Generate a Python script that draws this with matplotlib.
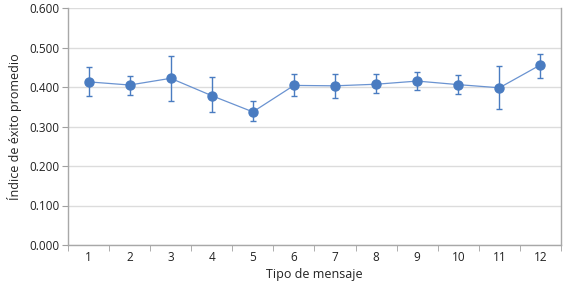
import matplotlib.pyplot as plt
import numpy as np

plt.rcParams['font.family'] = ['Open Sans', 'DejaVu Sans']

tipos = [1, 2, 3, 4, 5, 6, 7, 8, 9, 10, 11, 12]
media = [0.413, 0.405, 0.422, 0.378, 0.337, 0.404, 0.403, 0.407, 0.415, 0.406, 0.398, 0.456]
sup = [0.451, 0.428, 0.478, 0.425, 0.365, 0.433, 0.434, 0.433, 0.439, 0.430, 0.452, 0.484]
inf = [0.377, 0.380, 0.365, 0.337, 0.314, 0.376, 0.372, 0.384, 0.392, 0.383, 0.344, 0.424]

media = np.array(media)
err = [media - np.array(inf), np.array(sup) - media]

fig = plt.figure(figsize=(5.73, 2.86), dpi=100)
ax = fig.add_axes([68/573, 1-245/286, (561-68)/573, (245-8)/286])

azul = "#4a7cc1"
ax.errorbar(tipos, media, yerr=err, color="#6a93d1", lw=0.9, ecolor=azul,
            elinewidth=1.0, capsize=2.5, capthick=1.0, marker="o", ms=6.5,
            mfc=azul, mec=azul, zorder=3)

ax.set_xlim(0.5, 12.5)
ax.set_ylim(0, 0.6)
ax.set_yticks(np.arange(0, 0.61, 0.1))
ax.set_yticklabels(["%.3f" % v for v in np.arange(0, 0.61, 0.1)])
ax.yaxis.grid(True, color="#dcdcdc", lw=1.0)
ax.set_axisbelow(True)

ax.set_xticks(tipos)
ax.set_xticks(np.arange(0.5, 12.6, 1), minor=True)
ax.tick_params(axis="x", which="major", length=0, pad=4)
ax.tick_params(axis="x", which="minor", length=4, color="#a0a0a0", direction="out")
ax.tick_params(axis="y", length=4, color="#a0a0a0", direction="out", pad=2)
ax.tick_params(labelsize=8.5, labelcolor="#222222")

for s in ["left", "bottom", "right"]:
    ax.spines[s].set_color("#a8a8a8")
    ax.spines[s].set_linewidth(1.0)
ax.spines["top"].set_visible(False)

ax.set_xlabel("Tipo de mensaje", fontsize=9, color="#222222", labelpad=3)
ax.set_ylabel("Índice de éxito promedio", fontsize=9, color="#222222", labelpad=5)

fig.savefig("out.png", dpi=100)
